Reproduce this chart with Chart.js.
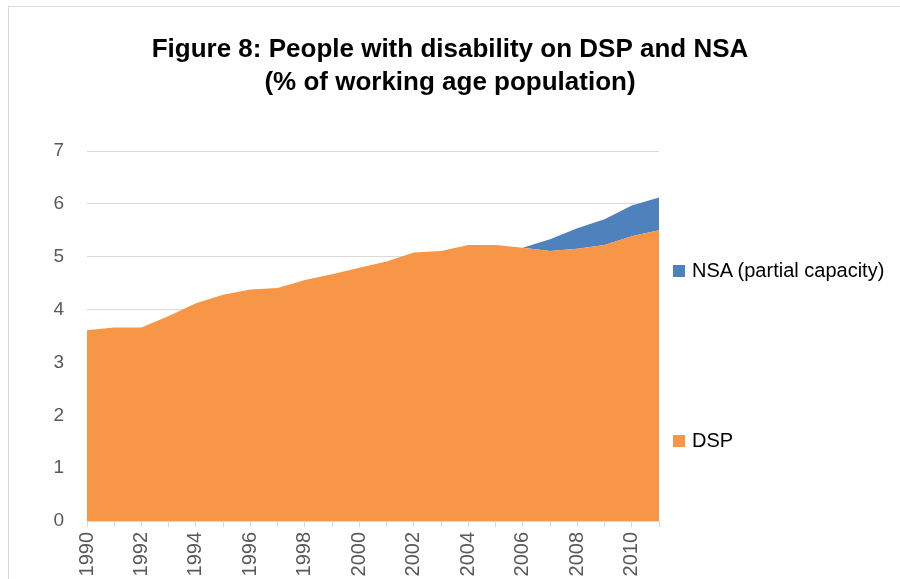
<!DOCTYPE html>
<html>
<head>
<meta charset="utf-8">
<script src="https://cdn.jsdelivr.net/npm/chart.js@4"></script>
<style>
  html, body { margin: 0; padding: 0; background: #fff; }
  #wrap { position: relative; width: 900px; height: 579px; overflow: hidden; }
  #frame { position: absolute; left: 8px; top: 6px; width: 1000px; height: 1000px; border: 1px solid #d9d9d9; box-sizing: border-box; }
  canvas { position: absolute; left: 0; top: 0; }
  #legend { position: absolute; left: 673px; top: 0; font-family: 'Liberation Sans', Arial, sans-serif; font-size: 20px; color: #000; }
  #legend .item { position: absolute; white-space: nowrap; display: flex; align-items: center; }
  #legend .sw { width: 12px; height: 12px; margin-right: 7px; }
</style>
</head>
<body>
<div id="wrap">
  <div id="frame"></div>
  <canvas id="chart" width="900" height="579"></canvas>
  <div id="legend"></div>
</div>
<script>
const years = [1990, 1991, 1992, 1993, 1994, 1995, 1996, 1997, 1998, 1999, 2000,
               2001, 2002, 2003, 2004, 2005, 2006, 2007, 2008, 2009, 2010, 2011];
const dsp = [3.61, 3.66, 3.66, 3.88, 4.12, 4.28, 4.38, 4.41, 4.56, 4.67, 4.79,
             4.91, 5.08, 5.11, 5.22, 5.22, 5.17, 5.11, 5.15, 5.22, 5.39, 5.50];
const nsa = [0, 0, 0, 0, 0, 0, 0, 0, 0, 0, 0,
             0, 0, 0, 0, 0, 0, 0.22, 0.39, 0.49, 0.58, 0.62];
const yTicks = [0, 1, 2, 3, 4, 5, 6, 7];

const font = "'Liberation Sans', Arial, sans-serif";
const orange = '#F79646', blue = '#4F81BD';

const datasets = [
  { label: 'DSP', data: years.map((y, i) => ({ x: y, y: dsp[i] })),
    backgroundColor: orange, borderWidth: 0, pointRadius: 0, fill: 'origin', stack: 's' },
  { label: 'NSA (partial capacity)', data: years.map((y, i) => ({ x: y, y: nsa[i] })),
    backgroundColor: blue, borderWidth: 0, pointRadius: 0, fill: '-1', stack: 's' },
];

new Chart(document.getElementById('chart').getContext('2d'), {
  type: 'line',
  data: { datasets },
  options: {
    responsive: false, animation: false,
    layout: { padding: 0 },
    plugins: {
      legend: { display: false },
      tooltip: { enabled: false },
      title: { display: true, text: ['Figure 8: People with disability on DSP and NSA', '(% of working age population)'],
               color: '#000', font: { family: font, size: 26, weight: 'bold', lineHeight: 1.27 },
               padding: { top: 33, bottom: 52 } },
    },
    scales: {
      x: { type: 'linear', min: 1990, max: 2011,
           afterBuildTicks: s => { s.ticks = years.map(v => ({ value: v })); },
           afterFit: s => { s.height = 58; },
           grid: { drawOnChartArea: false, drawTicks: true, tickLength: 6, color: '#d9d9d9' },
           border: { color: '#d9d9d9' },
           ticks: { color: '#595959', font: { family: font, size: 20 }, minRotation: 90, maxRotation: 90, padding: 5,
                    autoSkip: false, callback: v => (v % 2 === 0 ? String(v) : '') } },
      y: { stacked: true, min: 0, max: 7,
           afterBuildTicks: s => { s.ticks = yTicks.map(v => ({ value: v })); },
           afterFit: s => { s.width = 87; },
           grid: { color: '#d9d9d9', drawTicks: false, lineWidth: 1 },
           border: { display: false },
           ticks: { color: '#595959', font: { family: font, size: 19 }, padding: 23 } },
      pad: { position: 'right', display: true, afterFit: s => { s.width = 241; },
             grid: { display: false }, border: { display: false }, ticks: { display: false } },
    },
  },
});

// Legend, as the original puts it in the right margin
const legendPos = [{ ds: 1, top: 259 }, { ds: 0, top: 429 }];
const leg = document.getElementById('legend');
for (const p of legendPos) {
  const d = datasets[p.ds];
  const item = document.createElement('div');
  item.className = 'item';
  item.style.top = p.top + 'px';
  item.innerHTML = `<span class="sw" style="background:${d.backgroundColor}"></span><span>${d.label}</span>`;
  leg.appendChild(item);
}
</script>
</body>
</html>
